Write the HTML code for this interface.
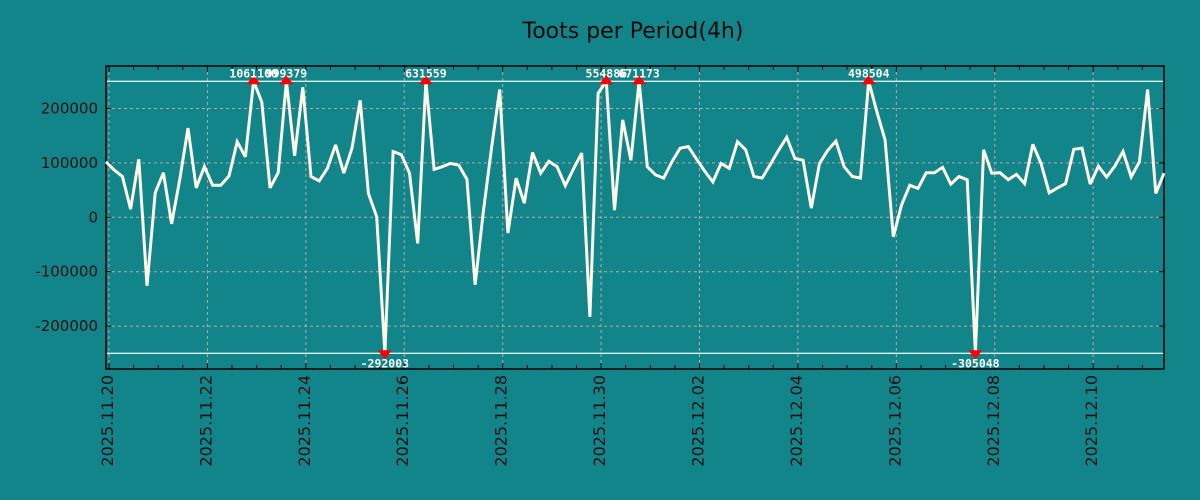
<!DOCTYPE html>
<html><head><meta charset="utf-8"><style>
html,body{margin:0;padding:0;background:#11858a;}
svg{display:block;}
</style></head><body>
<svg id="chart" width="1200" height="500" xmlns="http://www.w3.org/2000/svg" font-family="DejaVu Sans, Liberation Sans, sans-serif">
<rect width="1200" height="500" fill="#11858a"/>
<text x="633" y="38" text-anchor="middle" font-size="22" fill="#0a0a0a">Toots per Period(4h)</text>
<g id="grid"></g>
<g id="axes"></g>
<g id="series"></g>
<g id="marks"></g>
</svg>
<script>
const values = [102000,87000,75000,15000,107000,-126000,45000,82000,-12000,70000,
164000,54000,93000,59000,59000,76000,139000,111000,1061100,212000,
54000,82000,999379,113000,239000,75000,67000,90000,133000,81000,
127000,215000,44000,1000,-292003,121000,115000,81000,-48000,631559,
88000,93000,99000,96000,70000,-124000,10000,127000,235000,-29000,
72000,26000,119000,81000,103000,93000,58000,89000,118000,-183000,
228000,554886,13000,179000,105000,671173,93000,78000,72000,102000,
127000,130000,107000,85000,65000,99000,90000,139000,124000,75000,
72000,97000,123000,147000,108000,105000,17000,99000,123000,140000,
93000,75000,72000,498504,194000,142000,-36000,23000,59000,53000,
82000,82000,92000,61000,75000,69000,-305048,124000,81000,82000,
69000,79000,62000,134000,99000,45000,54000,62000,125000,127000,
61000,94000,74000,94000,121000,74000,102000,235000,44000,81000];
const yTicks = [200000,100000,0,-100000,-200000];
const yTickLabels = ["200000","100000","0","-100000","-200000"];
const xTickLabels = ["2025.11.20","2025.11.22","2025.11.24","2025.11.26","2025.11.28","2025.11.30","2025.12.02","2025.12.04","2025.12.06","2025.12.08","2025.12.10"];
const clipLimit = 250000;

const NS="http://www.w3.org/2000/svg";
const L=106,R=1164,T=66,B=369;
const startHours=-1.46, stepHours=4;
const pxPerStep=(R-L)/(values.length-1);
function xIdx(i){return L+i*pxPerStep;}
function xHours(h){return L+(h-startHours)/stepHours*pxPerStep;}
function y(v){return 217.3-v/100000*54.4;}
function mk(tag,attrs,parent){const e=document.createElementNS(NS,tag);for(const k in attrs)e.setAttribute(k,attrs[k]);parent.appendChild(e);return e;}
const grid=document.getElementById('grid'),axes=document.getElementById('axes'),series=document.getElementById('series'),marks=document.getElementById('marks');

yTicks.forEach((v,k)=>{
  const g=mk('line',{x1:L,x2:R,y1:y(v),y2:y(v),stroke:'#b8a8a8','stroke-width':1,'stroke-dasharray':'3,3'},grid);
  
  
  mk('line',{x1:L,x2:L+5,y1:y(v),y2:y(v),stroke:'#000'},axes);
  mk('line',{x1:R-5,x2:R,y1:y(v),y2:y(v),stroke:'#000'},axes);
  const t=mk('text',{x:98,y:y(v)+5,'text-anchor':'end','font-size':15,fill:'#111'},axes);
  t.textContent=yTickLabels[k];
  
  
});
xTickLabels.forEach((lab,k)=>{
  const x=xHours(k*48);
  const g=mk('line',{x1:x,x2:x,y1:T,y2:B,stroke:'#b8a8a8','stroke-width':1,'stroke-dasharray':'3,3'},grid);
  
  
  const t=mk('text',{x:0,y:0,'text-anchor':'end','font-size':16,fill:'#111',transform:`translate(${x+4},375) rotate(-90)`},axes);
  t.textContent=lab;
  
  
});
for(let h=-12;h<=21.5*24;h+=12){
  const x=xHours(h); if(x<L||x>R) continue;
  const len=(h%48===0)?6:4;
  mk('line',{x1:x,x2:x,y1:B-len,y2:B,stroke:'#000'},axes);
  mk('line',{x1:x,x2:x,y1:T,y2:T+len,stroke:'#000'},axes);
}
[clipLimit,-clipLimit].forEach(v=>{
  const c=mk('line',{x1:L,x2:R,y1:y(v),y2:y(v),stroke:'#d8f0ee','stroke-width':1.3},grid);
  
  
});
const fr=mk('rect',{x:L,y:T,width:R-L,height:B-T,fill:'none',stroke:'#000','stroke-width':1.5},axes);


const pts=values.map((v,i)=>xIdx(i).toFixed(1)+','+y(Math.max(-clipLimit,Math.min(clipLimit,v))).toFixed(1)).join(' ');
const pl=mk('polyline',{points:pts,fill:'none',stroke:'#fffbe8','stroke-width':3,'stroke-linejoin':'miter','stroke-miterlimit':3},series);


values.forEach((v,i)=>{
  if(Math.abs(v)<=clipLimit) return;
  const x=xIdx(i), top=v>0, yy=y(top?clipLimit:-clipLimit);
  const p=top?`${x-7},${yy+3} ${x+7},${yy+3} ${x},${yy-6}`:`${x-7},${yy-3} ${x+7},${yy-3} ${x},${yy+6}`;
  const m=mk('polygon',{points:p,fill:'#ff0000'},marks);
  
  
  const t=mk('text',{x:x,y:top?yy-4:yy+14,'text-anchor':'middle','font-size':11.5,'font-weight':'bold','font-family':'DejaVu Sans Mono, Liberation Mono, monospace',fill:'#fff'},marks);
  t.textContent=String(v);
  
  
});
</script>
</body></html>
